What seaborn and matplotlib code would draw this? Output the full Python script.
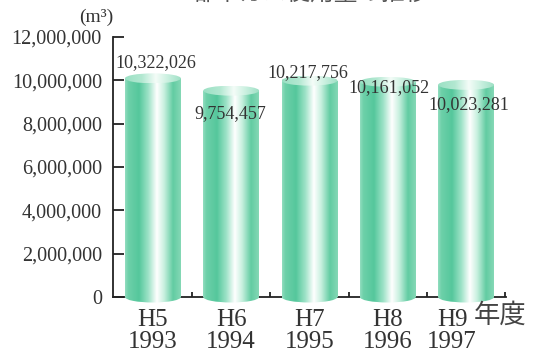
import numpy as np
import pandas as pd
import matplotlib
matplotlib.use("Agg")
import matplotlib.pyplot as plt
import matplotlib.transforms as mtransforms
from matplotlib.colors import LinearSegmentedColormap
from matplotlib.patches import Rectangle, Ellipse
from matplotlib.ticker import FuncFormatter, FixedLocator
import seaborn as sns

# Annual consumption (m³) by fiscal year
years_jp = ["H5", "H6", "H7", "H8", "H9"]
years_ad = ["1993", "1994", "1995", "1996", "1997"]
usage = [10322026, 9754457, 10217756, 10161052, 10023281]
y_ticks = [0, 2000000, 4000000, 6000000, 8000000, 10000000, 12000000]

# value-label nudges (points): x, y relative to each bar top
label_dx = [2, -1, -1, 1, 2]
label_dy = [8, -20, 2, -8, -18]

df = pd.DataFrame({"year": [f"{a}\n{b}" for a, b in zip(years_jp, years_ad)],
                   "usage": usage})

sns.set_theme(style="white")
plt.rcParams["font.family"] = ["Liberation Serif", "DejaVu Serif"]

W, H = 533, 355
fig = plt.figure(figsize=(W / 100, H / 100), dpi=100)
px_per_unit = (297 - 37) / 12e6
ybot = -0.36e6
ax_bottom_px = 297 + (-ybot) * px_per_unit
ax = fig.add_axes([113 / W, (H - ax_bottom_px) / H, (506 - 113) / W,
                   (ax_bottom_px - 37) / H])

sns.barplot(data=df, x="year", y="usage", color="#4cc496", width=0.715,
            ax=ax, zorder=3)

ax.set_xlim(-0.51, 4.51)
ax.set_ylim(ybot, 12e6)

# cylinder shading
body_cmap = LinearSegmentedColormap.from_list("body", [
    (0.0, "#92ddbf"), (0.06, "#6dd0a9"), (0.25, "#55c79c"),
    (0.42, "#9fe3c8"), (0.57, "#ffffff"), (0.70, "#c8f0df"),
    (0.86, "#62cca2"), (1.0, "#85d8b6")])
top_cmap = LinearSegmentedColormap.from_list("top", [
    (0.0, "#9be0c4"), (0.3, "#b2e8d1"), (0.55, "#f4fcf8"),
    (0.75, "#cdf1e2"), (1.0, "#9fe0c5")])
grad = np.linspace(0, 1, 256).reshape(1, -1)

cap = 10 / px_per_unit  # ellipse height in data units
for p, v, dx, dy in zip(ax.patches, usage, label_dx, label_dy):
    x0, w = p.get_x(), p.get_width()
    xc = x0 + w / 2
    p.set_visible(False)
    top_c = v - cap / 2
    rect = Rectangle((x0, 0), w, top_c, transform=ax.transData)
    bot = Ellipse((xc, 0), w, cap * 1.1, transform=ax.transData)
    for clip in (rect, bot):
        im = ax.imshow(grad, cmap=body_cmap, aspect="auto",
                       extent=(x0, x0 + w, -cap, top_c), zorder=3,
                       interpolation="bilinear")
        im.set_clip_path(clip)
    topel = Ellipse((xc, top_c), w, cap, transform=ax.transData)
    im = ax.imshow(grad, cmap=top_cmap, aspect="auto",
                   extent=(x0, x0 + w, top_c - cap / 2, v), zorder=4,
                   interpolation="bilinear")
    im.set_clip_path(topel)
    ax.annotate(f"{v:,}", (xc, v), xytext=(dx, dy), textcoords="offset points",
                ha="center", va="center", fontsize=13, color="#333333",
                zorder=6)

ax.set_xlim(-0.51, 4.51)
ax.set_ylim(ybot, 12e6)

# axes styling
for s in ("top", "right"):
    ax.spines[s].set_visible(False)
ax.spines["bottom"].set_position(("data", 0))
ax.spines["left"].set_bounds(0, 12e6)
ax.spines["bottom"].set_bounds(-0.51, 4.51)
for s in ("left", "bottom"):
    ax.spines[s].set_color("#222222")
    ax.spines[s].set_linewidth(1.3)
    ax.spines[s].set_zorder(2)

ax.set_yticks(y_ticks)
ax.yaxis.set_major_formatter(FuncFormatter(lambda v, _: f"{int(v):,}"))
ax.tick_params(axis="y", direction="in", length=8, width=1.3,
               color="#222222", labelsize=14.5, labelcolor="#333333", pad=8,
               left=True)
ax.xaxis.set_minor_locator(FixedLocator([0.5, 1.5, 2.5, 3.5, 4.5]))
ax.tick_params(axis="x", which="minor", direction="in", length=3.5,
               width=1.3, color="#222222", bottom=True)
ax.tick_params(axis="x", which="major", length=0, labelsize=18,
               labelcolor="#333333", pad=9)
xlabels = ax.get_xticklabels()
for t in xlabels:
    t.set_linespacing(0.95)
# the last year label sits a little left to leave room for the caption
xlabels[-1].set_transform(xlabels[-1].get_transform() +
                          mtransforms.ScaledTranslation(-14 / 100, 0,
                                                        fig.dpi_scale_trans))
ax.set_xlabel("")
ax.set_ylabel("")

# unit, axis caption and title
fig.text(96 / W, 1 - 17 / H, "(m³)", ha="center", va="center",
         fontsize=14, color="#333333")
fig.text(500 / W, 1 - 315 / H, "年度", ha="center", va="center",
         fontsize=19, color="#444444", family=["Noto Sans CJK JP"])
fig.text(311 / W, 1 + 0.5 / H, "都市ガス使用量の推移", ha="center",
         va="baseline", fontsize=17, color="#555555",
         family=["Noto Sans CJK JP"])

fig.savefig("out.png", dpi=100, facecolor="white")
